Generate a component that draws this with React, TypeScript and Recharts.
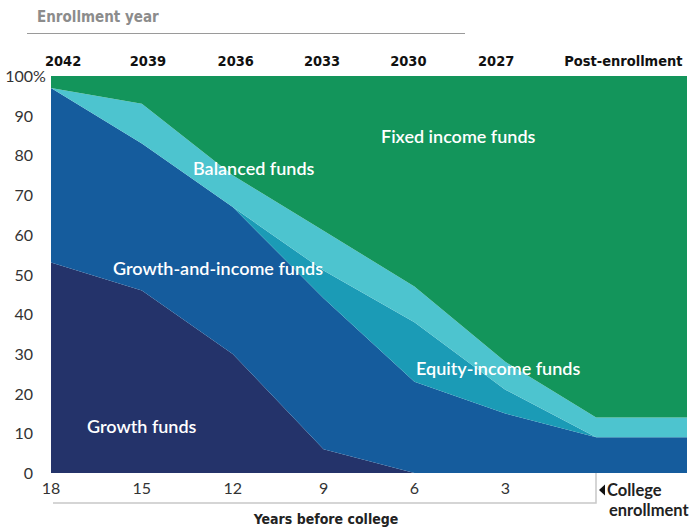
import React from "react";
import { AreaChart, Area, XAxis, YAxis } from "recharts";

// years before college (last point = end of post-enrollment stretch)
const yearsBefore = [18, 15, 12, 9, 6, 3, 0, -3];
const growth = [53, 46, 30, 6, 0, 0, 0, 0];
const growthAndIncome = [44, 37, 37, 38, 23, 15, 9, 9];
const equityIncome = [0, 0, 0, 7, 15, 6, 0, 0];
const balanced = [0, 10, 8, 10, 9, 7, 5, 5];
const fixedIncome = [3, 7, 25, 39, 53, 72, 86, 86];

const bottomTicks = [18, 15, 12, 9, 6, 3];
const yTicks = [0, 10, 20, 30, 40, 50, 60, 70, 80, 90, 100];
const enrollmentLabels = ["2042", "2039", "2036", "2033", "2030", "2027", "Post-enrollment"];
const enrollmentTickAt = [17.6, 14.8, 11.9, 9.05, 6.2, 3.3, -0.9];

const data = yearsBefore.map((y, i) => ({
	years: y,
	growth: growth[i],
	growthAndIncome: growthAndIncome[i],
	equityIncome: equityIncome[i],
	balanced: balanced[i],
	fixedIncome: fixedIncome[i],
}));

const COLORS = {
	growth: "#24336a",
	growthAndIncome: "#155c9d",
	equityIncome: "#1b9bb6",
	balanced: "#4dc4cf",
	fixedIncome: "#13955b",
};

const bodyFont = "Lato, 'Open Sans', sans-serif";
const condFont = "'DejaVu Sans Condensed', 'DejaVu Sans', sans-serif";

const YTick = (props: any) => {
	const { x, y, payload } = props;
	return (
		<g>
			<text x={x} y={y} dy={6} textAnchor="end" fontSize={16} fill="#333" fontFamily={bodyFont}>
				{payload.value}
			</text>
			{payload.value === 100 && (
				<text x={x} y={y} dy={6} textAnchor="start" fontSize={16} fill="#333" fontFamily={bodyFont}>
					%
				</text>
			)}
		</g>
	);
};

const labels = [
	{ text: "Fixed income funds", x: 381, y: 137 },
	{ text: "Balanced funds", x: 193, y: 169 },
	{ text: "Growth-and-income funds", x: 113, y: 269 },
	{ text: "Equity-income funds", x: 416, y: 369 },
	{ text: "Growth funds", x: 87, y: 427 },
];

export default function App() {
	return (
		<div style={{ position: "absolute", left: 0, top: 0, width: 689, height: 529, background: "#fff" }}>
			<AreaChart width={689} height={529} data={data} margin={{ top: 46, right: 2, bottom: 26, left: 0 }}>
				<XAxis
					dataKey="years"
					type="number"
					domain={[-3, 18]}
					reversed
					ticks={bottomTicks}
					axisLine={false}
					tickLine={false}
					tickSize={0}
					tickMargin={10}
					height={30}
					tick={{ fontSize: 16, fill: "#333", fontFamily: bodyFont }}
				/>
				<XAxis
					xAxisId="top"
					orientation="top"
					dataKey="years"
					type="number"
					domain={[-3, 18]}
					reversed
					ticks={enrollmentTickAt}
					tickFormatter={(_v: number, i: number) => enrollmentLabels[i]}
					axisLine={false}
					tickLine={false}
					tickSize={0}
					tickMargin={10}
					height={30}
					interval={0}
					tick={{ fontSize: 14.5, fontWeight: 700, fill: "#111", fontFamily: condFont }}
				/>
				<YAxis
					type="number"
					domain={[0, 100]}
					ticks={yTicks}
					width={51}
					axisLine={false}
					tickLine={false}
					tickSize={0}
					tickMargin={18}
					tick={<YTick />}
				/>
				<Area type="linear" dataKey="growth" stackId="1" stroke="none" fill={COLORS.growth} fillOpacity={1} isAnimationActive={false} />
				<Area type="linear" dataKey="growthAndIncome" stackId="1" stroke="none" fill={COLORS.growthAndIncome} fillOpacity={1} isAnimationActive={false} />
				<Area type="linear" dataKey="equityIncome" stackId="1" stroke="none" fill={COLORS.equityIncome} fillOpacity={1} isAnimationActive={false} />
				<Area type="linear" dataKey="balanced" stackId="1" stroke="none" fill={COLORS.balanced} fillOpacity={1} isAnimationActive={false} />
				<Area type="linear" dataKey="fixedIncome" stackId="1" stroke="none" fill={COLORS.fixedIncome} fillOpacity={1} isAnimationActive={false} />
			</AreaChart>
			<svg width={689} height={529} style={{ position: "absolute", left: 0, top: 0, pointerEvents: "none" }}>
				<text x={37} y={22} fontSize={15} fontWeight={700} fill="#8c8c8c" fontFamily={condFont}>
					Enrollment year
				</text>
				<line x1={27} x2={465} y1={33.5} y2={33.5} stroke="#9a9a9a" strokeWidth={1} />
				{labels.map((l) => (
					<text key={l.text} x={l.x} y={l.y} dy={6} fontSize={18} fontWeight={600} fill="#fff" fontFamily={bodyFont}>
						{l.text}
					</text>
				))}
				<polyline points="53,503 596,503 596,473" fill="none" stroke="#c8c8c8" strokeWidth={1.5} />
				<polygon points="599,490 605,484.5 605,495.5" fill="#111" />
				<text x={607} y={496} fontSize={16.5} fontWeight={700} fill="#222" fontFamily={bodyFont}>
					College
				</text>
				<text x={609} y={516} fontSize={16.5} fontWeight={700} fill="#222" fontFamily={bodyFont}>
					enrollment
				</text>
				<text x={326} y={524} textAnchor="middle" fontSize={14} fontWeight={700} fill="#222" fontFamily={condFont}>
					Years before college
				</text>
			</svg>
		</div>
	);
}
